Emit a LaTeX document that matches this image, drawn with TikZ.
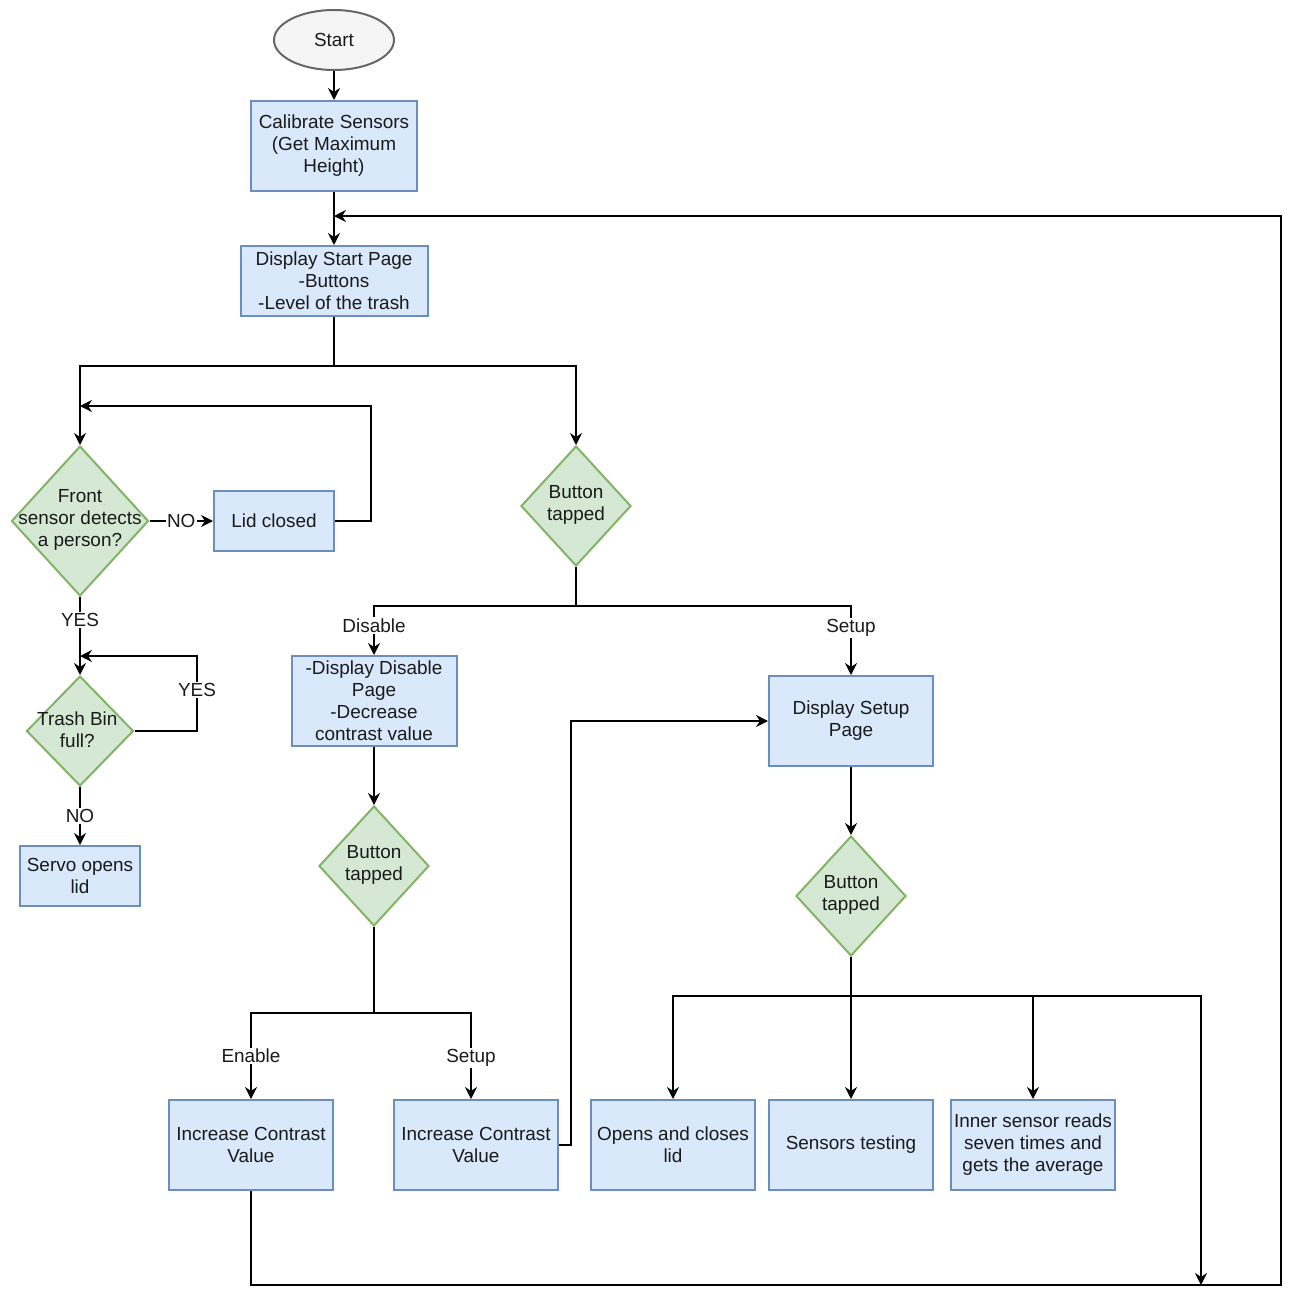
\documentclass[tikz,border=0pt]{standalone}
\usepackage{fontspec}
\setmainfont{Liberation Sans}
\usetikzlibrary{shapes.geometric,arrows.meta}
\definecolor{bfill}{HTML}{DAE8FC}
\definecolor{bdraw}{HTML}{6C8EBF}
\definecolor{gfill}{HTML}{D5E8D4}
\definecolor{gdraw}{HTML}{82B366}
\definecolor{efill}{HTML}{F5F5F5}
\definecolor{edraw}{HTML}{666666}
\definecolor{txtc}{HTML}{1A1A1A}
\begin{document}
\begin{tikzpicture}[x=0.75pt,y=-0.75pt,
  every node/.style={font=\fontsize{14.2}{16.5}\selectfont, text=txtc},
  box/.style={rectangle, draw=bdraw, fill=bfill, line width=1.5pt, align=center, inner sep=0pt},
  bigbox/.style={box, minimum width=123pt, minimum height=67.5pt},
  dia/.style={diamond, draw=gdraw, fill=gfill, line width=1.5pt, inner sep=0pt},
  btn/.style={dia, minimum width=82.5pt, minimum height=90pt},
  term/.style={ellipse, draw=edraw, fill=efill, line width=1.5pt, inner sep=0pt},
  dtext/.style={align=center, inner sep=0pt},
  conn/.style={line width=1.6pt, -{Stealth[length=9pt,width=9pt,inset=3pt]}},
  line1/.style={line width=1.6pt},
  lbl/.style={fill=white, inner sep=1pt}
]
\useasboundingbox (0,0) rectangle (1302,1307);

% nodes
\node[term, minimum width=90pt, minimum height=45pt] (start) at (334,40) {Start};
\node[box, minimum width=124.5pt, minimum height=67.5pt] (cal) at (334,146) {Calibrate Sensors\\(Get Maximum\\Height)};
\node[box, minimum width=140.25pt, minimum height=52.5pt] (dsp) at (334,281) {Display Start Page\\-Buttons\\-Level of the trash};

\node[dia, minimum width=102.75pt, minimum height=112.5pt] (front) at (80,521) {};
\node[dtext] at ([yshift=1pt]front.center) {Front\\sensor detects\\a person?};
\node[box, minimum width=90pt, minimum height=45pt] (lid) at (274,521) {Lid closed};

\node[btn] (btn1) at (576,506) {};
\node[dtext] at ([yshift=1pt]btn1.center) {Button\\tapped};

\node[dia, minimum width=80.25pt, minimum height=82.5pt] (trash) at (80,731) {};
\node[dtext] at ([xshift=-2pt,yshift=1pt]trash.center) {Trash Bin\\full?};
\node[box, minimum width=90pt, minimum height=45pt] (servo) at (80,876) {Servo opens\\lid};

\node[box, minimum width=123.75pt, minimum height=67.5pt] (dis) at (374,701) {-Display Disable\\Page\\-Decrease\\contrast value};
\node[btn] (btn2) at (374,866) {};
\node[dtext] at ([yshift=1pt]btn2.center) {Button\\tapped};

\node[bigbox] (setup) at (851,721) {Display Setup\\Page};
\node[btn] (btn3) at (851,896) {};
\node[dtext] at ([yshift=1pt]btn3.center) {Button\\tapped};

\node[bigbox] (inc1) at (251,1145) {Increase Contrast\\Value};
\node[bigbox] (inc2) at (476,1145) {Increase Contrast\\Value};
\node[bigbox] (opens) at (673,1145) {Opens and closes\\lid};
\node[bigbox] (sens) at (851,1145) {Sensors testing};
\node[bigbox] (inner) at (1033,1145) {Inner sensor reads\\seven times and\\gets the average};

\coordinate (loopin) at (334,216);
\coordinate (lidin) at (80,406);
\coordinate (trin) at (80,656);
\coordinate (loopdown) at (1201,1285);

% connectors
\draw[conn] (start.south) -- (cal.north);
\draw[conn] (cal.south) -- (dsp.north);
\draw[line1] (dsp.south) -- (334,366);
\draw[conn] (334,366) -| (front.north);
\draw[conn] (334,366) -| (btn1.north);

\draw[conn] (front.east) -- node[lbl]{NO} (lid.west);
\draw[conn] (lid.east) -| (371,406) -- (lidin);
\draw[conn] (front.south) -- node[lbl, pos=0.3]{YES} (trash.north);
\draw[conn] (trash.east) -- (197,731) -- node[lbl, pos=0.55]{YES} (197,656) -- (trin);
\draw[conn] (trash.south) -- node[lbl]{NO} (servo.north);

\draw[line1] (btn1.south) -- (576,606);
\draw[conn] (576,606) -| node[lbl, pos=0.7]{Disable} (dis.north);
\draw[conn] (576,606) -| node[lbl, pos=0.66]{Setup} (setup.north);

\draw[conn] (dis.south) -- (btn2.north);
\draw[line1] (btn2.south) -- (374,1013);
\draw[conn] (374,1013) -| node[lbl, pos=0.75]{Enable} (inc1.north);
\draw[conn] (374,1013) -| node[lbl, pos=0.76]{Setup} ([xshift=-3.75pt]inc2.north);
\draw[conn] (inc2.east) -- (571,1145) |- (setup.west);

\draw[conn] (setup.south) -- (btn3.north);
\draw[line1] (btn3.south) -- (851,996);
\draw[conn] (851,996) -| (opens.north);
\draw[conn] (btn3.south) -- (sens.north);
\draw[conn] (851,996) -| (inner.north);
\draw[conn] (851,996) -| (loopdown);

\draw[conn] (inc1.south) |- (1281,1285) |- (loopin);
\end{tikzpicture}
\end{document}
